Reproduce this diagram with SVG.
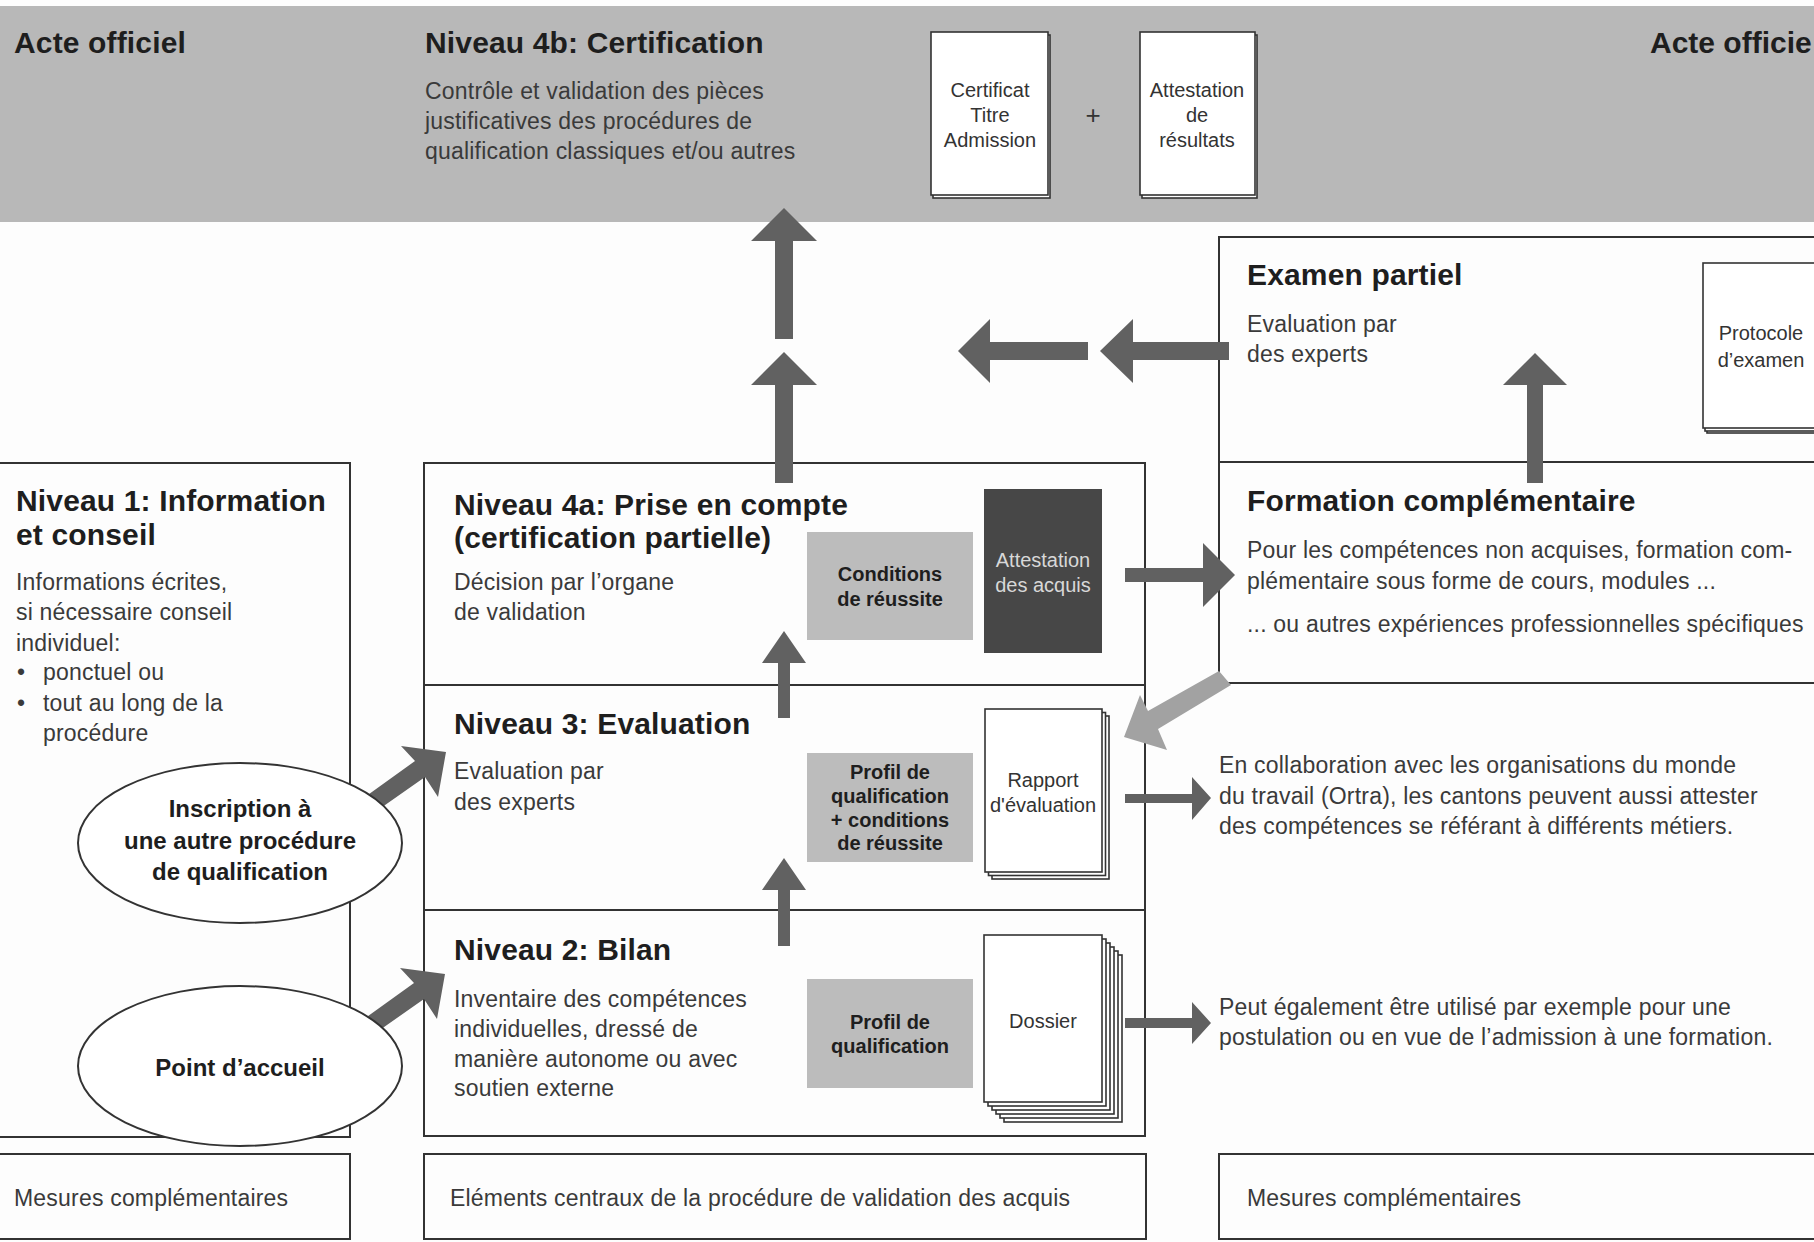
<svg xmlns="http://www.w3.org/2000/svg" width="1814" height="1242" viewBox="0 0 1814 1242">
<style>
text{font-family:"Liberation Sans",Arial,sans-serif}
.h{font-size:30px;font-weight:bold;fill:#1e1e1e;letter-spacing:0.15px}
.b{font-size:23px;fill:#3a3a3a;letter-spacing:0.2px}
.s{font-size:20px;fill:#333;text-anchor:middle}
.sb{font-size:20px;font-weight:bold;fill:#1e1e1e;text-anchor:middle}
.eb{font-size:24px;font-weight:bold;fill:#1e1e1e;text-anchor:middle}
.box{fill:none;stroke:#333;stroke-width:2}
.page{fill:#fff;stroke:#333;stroke-width:1.6}
.cond{fill:#bcbcbc}
.arr{fill:#616161}
.arrl{fill:#a2a2a2}
</style>
<rect x="0" y="0" width="1814" height="1242" fill="#fdfdfd"/>

<g id="band">
<rect x="0" y="6" width="1814" height="216" fill="#b8b8b8"/>
<text class="h" x="14" y="53">Acte officiel</text>
<text class="h" x="1650" y="53" style="letter-spacing:0">Acte officie</text>
</g>

<g id="niveau4b">
<text class="h" x="425" y="53">Niveau 4b: Certification</text>
<text class="b" x="425" y="99">Contrôle et validation des pièces</text>
<text class="b" x="425" y="129">justificatives des procédures de</text>
<text class="b" x="425" y="159">qualification classiques et/ou autres</text>
</g>

<g id="certificat">
<rect class="page" x="933" y="35" width="117" height="163"/>
<rect class="page" x="931" y="32" width="117" height="163"/>
<text class="s" x="990" y="97">Certificat</text>
<text class="s" x="990" y="122">Titre</text>
<text class="s" x="990" y="147">Admission</text>
</g>
<text x="1093" y="124" font-size="26" fill="#333" text-anchor="middle">+</text>
<g id="attestation-resultats">
<rect class="page" x="1142" y="35" width="115" height="163"/>
<rect class="page" x="1140" y="32" width="115" height="163"/>
<text class="s" x="1197" y="97">Attestation</text>
<text class="s" x="1197" y="122">de</text>
<text class="s" x="1197" y="147">résultats</text>
</g>

<g id="examen-partiel">
<rect class="box" x="1219" y="237" width="620" height="225"/>
<text class="h" x="1247" y="285">Examen partiel</text>
<text class="b" x="1247" y="332">Evaluation par</text>
<text class="b" x="1247" y="362">des experts</text>
<rect class="page" x="1707" y="268" width="130" height="165"/>
<rect class="page" x="1705" y="266" width="130" height="165"/>
<rect class="page" x="1703" y="263" width="130" height="165"/>
<text class="s" x="1761" y="340">Protocole</text>
<text class="s" x="1761" y="367">d’examen</text>
</g>

<g id="formation">
<rect class="box" x="1219" y="462" width="620" height="221"/>
<text class="h" x="1247" y="511">Formation complémentaire</text>
<text class="b" x="1247" y="558">Pour les compétences non acquises, formation com-</text>
<text class="b" x="1247" y="589">plémentaire sous forme de cours, modules ...</text>
<text class="b" x="1247" y="632">... ou autres expériences professionnelles spécifiques</text>
</g>

<g id="niveau1">
<rect class="box" x="-2" y="463" width="352" height="674"/>
<text class="h" x="16" y="511">Niveau 1: Information</text>
<text class="h" x="16" y="545">et conseil</text>
<text class="b" x="16" y="590">Informations écrites,</text>
<text class="b" x="16" y="620">si nécessaire conseil</text>
<text class="b" x="16" y="651">individuel:</text>
<text class="b" x="17" y="680">•</text>
<text class="b" x="43" y="680">ponctuel ou</text>
<text class="b" x="17" y="711">•</text>
<text class="b" x="43" y="711">tout au long de la</text>
<text class="b" x="43" y="741">procédure</text>
</g>

<g id="central">
<rect class="box" x="424" y="463" width="721" height="673"/>
<line class="box" x1="424" y1="685" x2="1145" y2="685"/>
<line class="box" x1="424" y1="910" x2="1145" y2="910"/>
</g>

<g id="niveau4a">
<text class="h" x="454" y="515">Niveau 4a: Prise en compte</text>
<text class="h" x="454" y="548">(certification partielle)</text>
<text class="b" x="454" y="590">Décision par l’organe</text>
<text class="b" x="454" y="620">de validation</text>
<rect class="cond" x="807" y="532" width="166" height="108"/>
<text class="sb" x="890" y="581">Conditions</text>
<text class="sb" x="890" y="606">de réussite</text>
<rect x="984" y="489" width="118" height="164" fill="#474747"/>
<text class="s" x="1043" y="567" style="fill:#d8d8d8">Attestation</text>
<text class="s" x="1043" y="592" style="fill:#d8d8d8">des acquis</text>
</g>

<g id="niveau3">
<text class="h" x="454" y="734">Niveau 3: Evaluation</text>
<text class="b" x="454" y="779">Evaluation par</text>
<text class="b" x="454" y="810">des experts</text>
<rect class="cond" x="807" y="753" width="166" height="109"/>
<text class="sb" x="890" y="779">Profil de</text>
<text class="sb" x="890" y="803">qualification</text>
<text class="sb" x="890" y="827">+ conditions</text>
<text class="sb" x="890" y="850">de réussite</text>
<rect class="page" x="992" y="716" width="117" height="163"/>
<rect class="page" x="988.5" y="712.5" width="117" height="163"/>
<rect class="page" x="985" y="709" width="117" height="163"/>
<text class="s" x="1043" y="787">Rapport</text>
<text class="s" x="1043" y="812">d'évaluation</text>
</g>

<g id="niveau2">
<text class="h" x="454" y="960">Niveau 2: Bilan</text>
<text class="b" x="454" y="1007">Inventaire des compétences</text>
<text class="b" x="454" y="1037">individuelles, dressé de</text>
<text class="b" x="454" y="1067">manière autonome ou avec</text>
<text class="b" x="454" y="1096">soutien externe</text>
<rect class="cond" x="807" y="979" width="166" height="109"/>
<text class="sb" x="890" y="1029">Profil de</text>
<text class="sb" x="890" y="1053">qualification</text>
<rect class="page" x="1004" y="955" width="118" height="167"/>
<rect class="page" x="1000" y="951" width="118" height="167"/>
<rect class="page" x="996" y="947" width="118" height="167"/>
<rect class="page" x="992" y="943" width="118" height="167"/>
<rect class="page" x="988" y="939" width="118" height="167"/>
<rect class="page" x="984" y="935" width="118" height="167"/>
<text class="s" x="1043" y="1028">Dossier</text>
</g>

<g id="note-ortra">
<text class="b" x="1219" y="773">En collaboration avec les organisations du monde</text>
<text class="b" x="1219" y="804">du travail (Ortra), les cantons peuvent aussi attester</text>
<text class="b" x="1219" y="834">des compétences se référant à différents métiers.</text>
</g>

<g id="note-dossier">
<text class="b" x="1219" y="1015">Peut également être utilisé par exemple pour une</text>
<text class="b" x="1219" y="1045">postulation ou en vue de l’admission à une formation.</text>
</g>

<g id="bottom-left">
<rect class="box" x="-2" y="1154" width="352" height="85"/>
<text class="b" x="14" y="1206">Mesures complémentaires</text>
</g>
<g id="bottom-center">
<rect class="box" x="424" y="1154" width="722" height="85"/>
<text class="b" x="450" y="1206">Eléments centraux de la procédure de validation des acquis</text>
</g>
<g id="bottom-right">
<rect class="box" x="1219" y="1154" width="620" height="85"/>
<text class="b" x="1247" y="1206">Mesures complémentaires</text>
</g>

<g id="connectors">
<polygon class="arr" points="751,241 784,208 817,241 793,241 793,339 775,339 775,241"/>
<polygon class="arr" points="751,385 784,352 817,385 793,385 793,483 775,483 775,385"/>
<polygon class="arr" points="958,351 990,319 990,342 1088,342 1088,360 990,360 990,383"/>
<polygon class="arr" points="1100,351 1133,319 1133,342 1229,342 1229,360 1133,360 1133,383"/>
<polygon class="arr" points="1503,385 1535,353 1567,385 1543,385 1543,483 1527,483 1527,385"/>
<polygon class="arr" points="1125,568 1203,568 1203,543 1235,575 1203,607 1203,582 1125,582"/>
<polygon class="arr" points="762,663 784,631 806,663 790,663 790,718 778,718 778,663"/>
<polygon class="arr" points="762,890 784,858 806,890 790,890 790,946 778,946 778,890"/>
<polygon class="arr" points="1125,794 1192,794 1192,777 1211,798 1192,820 1192,803 1125,803"/>
<polygon class="arr" points="1125,1018 1192,1018 1192,1002 1211,1023 1192,1044 1192,1028 1125,1028"/>
<polygon class="arrl" points="1124,737 1140,695 1148,711 1219,671 1231,685 1158,729 1167,750"/>
<polygon class="arr" points="446,752 438,797 425,777 368,817 358,802 415,761 401,746"/>
<polygon class="arr" transform="translate(-1,222)" points="446,752 438,797 425,777 368,817 358,802 415,761 401,746"/>
</g>

<g id="inscription">
<ellipse cx="240" cy="843" rx="162" ry="80" fill="#fff" stroke="#333" stroke-width="2"/>
<text class="eb" x="240" y="817">Inscription à</text>
<text class="eb" x="240" y="849">une autre procédure</text>
<text class="eb" x="240" y="880">de qualification</text>
</g>
<g id="point-accueil">
<ellipse cx="240" cy="1066" rx="162" ry="80" fill="#fff" stroke="#333" stroke-width="2"/>
<text class="eb" x="240" y="1076">Point d’accueil</text>
</g>
</svg>
